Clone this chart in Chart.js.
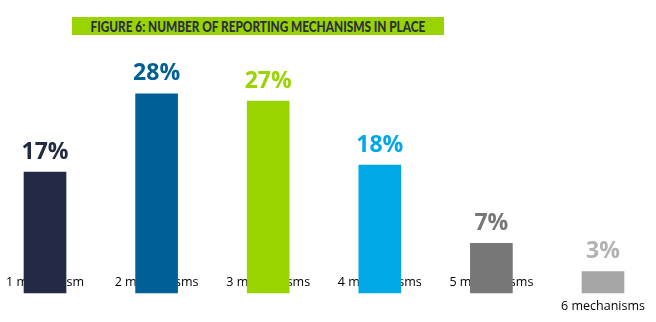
<!DOCTYPE html>
<html>
<head>
<meta charset="UTF-8">
<title>Number of reporting mechanisms in place</title>
<script src="https://cdn.jsdelivr.net/npm/chart.js"></script>
<style>
    body { margin: 0; background: #fff; overflow: hidden; }
    #wrap { position: relative; width: 656px; height: 322px; }
    #chart { position: absolute; left: 0; top: 0; }
    .fig-title {
        position: absolute; left: 72px; top: 17px; width: 372px; height: 18px;
        background: #99d400; display: flex; justify-content: center; align-items: center;
        font: 900 15px Lato, "Open Sans", sans-serif; color: #2b2e45;
        white-space: nowrap; overflow: hidden;
    }
    .fig-title span { flex: none; display: inline-block; transform-origin: center; }
</style>
</head>
<body>
<div id="wrap">
    <canvas id="chart" width="656" height="322"></canvas>
    <div class="fig-title"><span id="titleText">FIGURE 6: NUMBER OF REPORTING MECHANISMS IN PLACE</span></div>
</div>

<script>
    // Share of respondents by number of reporting mechanisms (%)
    const categories = ['1 mechanism', '2 mechanisms', '3 mechanisms', '4 mechanisms', '5 mechanisms', '6 mechanisms'];
    const shares = [17, 28, 27, 18, 7, 3];
    const barColors = ['#222a45', '#005f96', '#99d400', '#00a9e6', '#777777', '#a6a6a6'];
    const valueColors = ['#222a45', '#005f96', '#99d400', '#00a9e6', '#777777', '#b2b2b2'];

    // squeeze the heading into its band
    const t = document.getElementById('titleText');
    t.style.transform = 'scaleX(' + (335 / t.offsetWidth) + ')';

    // percentage above each bar, in the bar's own colour
    const valueLabels = {
        id: 'valueLabels',
        afterDatasetsDraw(chart) {
            const ctx = chart.ctx;
            const meta = chart.getDatasetMeta(0);
            ctx.save();
            ctx.font = 'bold 23px "Open Sans", sans-serif';
            ctx.textAlign = 'center';
            ctx.textBaseline = 'middle';
            meta.data.forEach((bar, i) => {
                ctx.fillStyle = valueColors[i];
                ctx.fillText(shares[i] + '%', bar.x, bar.y - 20);
            });
            ctx.restore();
        }
    };

    new Chart(document.getElementById('chart'), {
        type: 'bar',
        data: {
            labels: categories,
            datasets: [{
                data: shares,
                backgroundColor: barColors,
                barThickness: 42,
                clip: false
            }]
        },
        options: {
            responsive: false,
            animation: false,
            layout: { padding: { left: 45, right: 53, top: 8.6, bottom: 29 } },
            plugins: { legend: { display: false }, tooltip: { enabled: false } },
            scales: {
                x: {
                    offset: false,
                    grid: { display: false, drawTicks: false },
                    border: { display: false },
                    afterFit: s => { s.height = 0; },
                    ticks: {
                        autoSkip: false,
                        maxRotation: 0,
                        // mirrored so the labels sit just above the baseline, behind the bars
                        mirror: true,
                        padding: -1.5,
                        color: '#000',
                        font: { family: '"Open Sans", sans-serif', size: 12.5, lineHeight: '23.7px' },
                        // the last label drops one line, under its short bar
                        callback: (v, i) => i === categories.length - 1 ? ['', categories[i]] : categories[i]
                    }
                },
                y: { display: false, min: 0, max: 40 }
            }
        },
        plugins: [valueLabels]
    });
</script>
</body>
</html>
